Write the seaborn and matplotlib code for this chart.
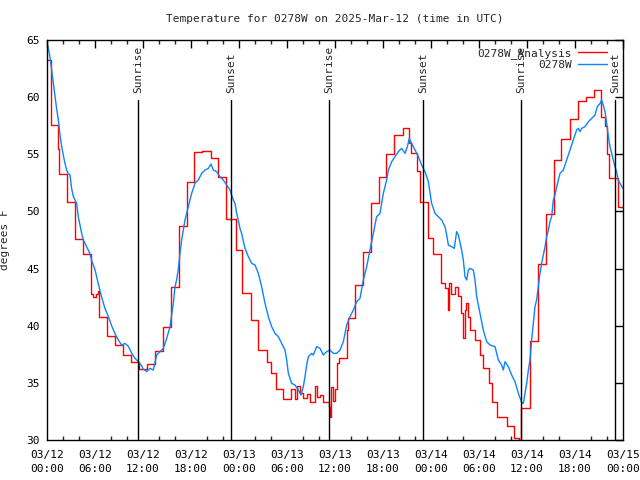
import matplotlib
matplotlib.use("Agg")
import matplotlib.pyplot as plt
import seaborn as sns
import pandas as pd

# ---------------- data (hours since 2025-03-12 00:00 UTC) ----------------
analysis_t = [0.0, 0.5, 1.4, 1.55, 2.5, 3.5, 4.5, 5.5, 5.75, 6.1, 6.35, 6.5, 7.5, 8.5, 9.5,
              10.5, 11.5, 12.5, 13.5, 14.5, 15.5, 16.5, 17.5, 18.4, 19.4, 20.5, 21.4, 22.4,
              23.6, 24.4, 25.5, 26.4, 27.5, 28.0, 28.6, 29.5, 30.5, 31.0, 31.2, 31.6, 32.0,
              32.5, 32.9, 33.5, 33.7, 34.1, 34.5, 35.2, 35.4, 35.5, 35.7, 36.0, 36.3, 36.5,
              37.45, 37.6, 38.5, 39.5, 40.5, 41.5, 42.4, 43.4, 44.5, 45.3, 45.5, 46.3, 46.6,
              47.6, 48.3, 49.25, 49.75, 50.1, 50.3, 50.5, 51.0, 51.4, 51.8, 52.0, 52.2, 52.4,
              52.6, 52.9, 53.5, 54.1, 54.5, 55.2, 55.6, 56.3, 57.5, 58.4, 59.0, 59.3, 60.4,
              61.35, 62.4, 63.35, 64.3, 65.35, 66.4, 67.4, 68.4, 69.25, 69.8, 70.0, 70.2,
              71.4, 72.0]
analysis_v = [63.25, 57.6, 55.5, 53.25, 50.8, 47.6, 46.3, 42.8, 42.5, 42.8, 43.0, 40.8, 39.1,
              38.3, 37.4, 36.85, 36.2, 36.65, 37.8, 39.9, 43.4, 48.7, 52.6, 55.2, 55.3, 54.7,
              53.0, 49.3, 46.6, 42.9, 40.5, 37.9, 36.85, 35.9, 34.5, 33.6, 34.5, 33.6, 34.7,
              34.1, 33.65, 34.0, 33.35, 34.7, 33.8, 33.9, 33.35, 32.9, 32.0, 34.6, 33.4, 34.5,
              36.7, 37.15, 39.6, 40.7, 43.6, 46.45, 50.7, 53.0, 55.0, 56.65, 57.27, 56.0, 55.1,
              53.5, 50.8, 47.65, 46.3, 43.7, 43.3, 41.4, 43.7, 42.8, 43.4, 42.6, 41.1, 38.9,
              41.4, 42.0, 40.8, 39.6, 38.75, 37.4, 36.3, 35.0, 33.35, 32.0, 31.2, 30.2, 30.0,
              32.8, 38.7, 45.4, 49.8, 54.5, 56.3, 58.1, 59.7, 60.0, 60.6, 58.3, 57.5, 55.0,
              52.9, 50.4, 50.4]

obs_t = [0.0, 0.17, 0.375, 0.58, 0.79, 1.0, 1.2, 1.42, 1.625, 1.83, 2.04, 2.25, 2.46, 2.67,
         2.875, 3.08, 3.29, 3.5, 3.71, 3.92, 4.125, 4.33, 4.54, 4.96, 5.375, 5.58, 6.0, 6.4,
         6.83, 7.25, 7.67, 8.08, 8.5, 8.92, 9.33, 9.75, 10.17, 10.58, 11.0, 11.42, 11.83,
         12.04, 12.25, 12.46, 12.875, 13.29, 13.71, 14.125, 14.54, 14.96, 15.375, 15.79,
         16.0, 16.2, 16.4, 16.625, 16.83, 17.04, 17.25, 17.46, 17.67, 17.875, 18.08, 18.29,
         18.5, 18.92, 19.33, 19.75, 20.17, 20.5, 20.79, 21.2, 21.625, 22.04, 22.46, 22.875,
         23.29, 23.5, 23.71, 24.125, 24.33, 24.75, 25.17, 25.58, 26.0, 26.42, 26.83, 27.25,
         27.67, 28.08, 28.5, 28.92, 29.33, 29.75, 29.96, 30.17, 30.58, 31.0, 31.42, 31.75,
         32.04, 32.25, 32.46, 32.67, 33.08, 33.29, 33.71, 34.125, 34.54, 34.96, 35.375,
         35.79, 36.2, 36.625, 37.04, 37.25, 37.46, 37.875, 38.29, 38.71, 39.125, 39.54,
         39.96, 40.375, 40.79, 41.2, 41.625, 42.04, 42.46, 42.67, 43.08, 43.5, 43.92, 44.33,
         44.75, 45.04, 45.29, 45.58, 46.0, 46.42, 46.83, 47.25, 47.67, 48.08, 48.5, 48.92,
         49.33, 49.75, 49.96, 50.17, 50.58, 50.92, 51.2, 51.42, 51.83, 52.04, 52.25, 52.46,
         52.67, 52.875, 53.29, 53.5, 53.71, 54.125, 54.54, 54.96, 55.375, 56.0, 56.42, 56.83,
         57.04, 57.25, 57.67, 58.08, 58.5, 58.92, 59.33, 59.54, 59.75, 59.96, 60.17, 60.375,
         60.58, 60.79, 61.0, 61.2, 61.42, 61.625, 61.83, 62.25, 62.46, 62.67, 62.875, 63.08,
         63.29, 63.5, 63.71, 63.92, 64.125, 64.33, 64.54, 64.96, 65.375, 65.79, 66.2, 66.42,
         66.625, 66.83, 67.25, 67.67, 68.08, 68.5, 68.79, 69.125, 69.33, 69.54, 69.75, 69.96,
         70.17, 70.375, 70.58, 70.79, 71.0, 71.2, 71.4, 71.625, 72.0]
obs_v = [64.7, 64.27, 63.5, 62.4, 61.2, 60.2, 59.0, 58.0, 56.7, 55.7, 54.9, 54.2, 53.6, 53.3,
         53.2, 52.0, 51.3, 51.0, 50.7, 49.5, 48.8, 48.1, 47.5, 46.9, 46.3, 45.7, 44.9, 43.7,
         42.5, 41.5, 40.8, 40.0, 39.3, 38.75, 38.3, 38.45, 38.2, 37.6, 37.15, 36.85, 36.5,
         36.18, 36.1, 35.98, 36.27, 36.12, 37.44, 37.73, 38.02, 38.9, 39.9, 41.96, 43.4, 44.0,
         44.87, 46.33, 47.5, 48.37, 49.25, 49.83, 50.41, 51.0, 51.58, 52.02, 52.46, 52.75,
         53.33, 53.62, 53.77, 54.15, 53.62, 53.48, 53.04, 52.75, 52.31, 51.87, 51.0, 50.71,
         49.83, 48.52, 48.08, 46.77, 46.04, 45.46, 45.31, 44.58, 43.42, 41.96, 40.79, 39.92,
         39.33, 39.04, 38.46, 37.87, 37.0, 35.83, 34.96, 34.81, 34.37, 33.94, 34.67, 35.54,
         36.56, 37.29, 37.58, 37.44, 38.17, 38.02, 37.44, 37.73, 37.87, 37.58, 37.58, 37.87,
         38.6, 39.33, 40.06, 40.79, 41.37, 42.1, 42.4, 44.0, 45.17, 46.62, 48.08, 49.54,
         49.83, 51.58, 52.75, 53.62, 54.35, 54.79, 55.23, 55.52, 55.08, 55.66, 56.39, 55.96,
         55.37, 54.79, 54.06, 53.48, 52.6, 50.71, 49.83, 49.54, 49.25, 48.67, 47.94, 47.06,
         46.92, 46.77, 48.23, 47.94, 46.62, 45.75, 44.29, 44.0, 44.87, 45.02, 44.87, 44.0,
         42.54, 41.08, 39.62, 38.6, 38.31, 38.17, 37.0, 36.56, 36.12, 36.85, 36.41, 35.69,
         35.1, 34.08, 33.3, 33.2, 34.1, 34.96, 36.12, 37.0, 38.75, 40.2, 41.67, 42.25, 43.42,
         44.58, 45.46, 46.9, 47.8, 48.37, 49.1, 49.54, 51.0, 51.44, 52.16, 52.75, 53.33,
         53.48, 53.62, 54.5, 55.37, 56.25, 57.12, 57.27, 56.98, 57.27, 57.41, 57.85, 58.14,
         58.43, 59.16, 59.45, 59.75, 59.3, 58.73, 57.7, 56.54, 55.66, 55.08, 54.5, 53.9,
         53.48, 52.75, 52.46, 52.0]

sun_t = [11.375, 23.0, 35.25, 47.0, 59.3, 71.0]
sun_labels = ["Sunrise", "Sunset", "Sunrise", "Sunset", "Sunrise", "Sunset"]

xtick_pos = [0, 6, 12, 18, 24, 30, 36, 42, 48, 54, 60, 66, 72]
xtick_labels = ["03/12\n00:00", "03/12\n06:00", "03/12\n12:00", "03/12\n18:00",
                "03/13\n00:00", "03/13\n06:00", "03/13\n12:00", "03/13\n18:00",
                "03/14\n00:00", "03/14\n06:00", "03/14\n12:00", "03/14\n18:00",
                "03/15\n00:00"]
ytick_pos = [30, 35, 40, 45, 50, 55, 60, 65]

title = "Temperature for 0278W on 2025-Mar-12 (time in UTC)"
ylabel = "degrees F"
label_analysis = "0278W_Analysis"
label_obs = "0278W"

# ---------------- plotting ----------------
sns.set_style("white")
plt.rcParams["font.family"] = ["DejaVu Sans Mono", "DejaVu Sans"]
plt.rcParams["font.size"] = 8

fig = plt.figure(figsize=(6.4, 4.8), dpi=100)
ax = fig.add_axes([47 / 640, 40 / 480, 576 / 640, 400 / 480])

df_a = pd.DataFrame({"t": analysis_t, "v": analysis_v})
df_o = pd.DataFrame({"t": obs_t, "v": obs_v})

sns.lineplot(data=df_a, x="t", y="v", ax=ax, color="#ff0000", linewidth=1.0,
             drawstyle="steps-post", estimator=None, sort=False, label=label_analysis)
sns.lineplot(data=df_o, x="t", y="v", ax=ax, color="#0a84ff", linewidth=1.0,
             estimator=None, sort=False, label=label_obs)

ax.set_xlim(0, 72)
ax.set_ylim(30, 65)

label_y = 30 + (440 - 93) / (400 / 35)
for t, lab in zip(sun_t, sun_labels):
    ax.axvline(t, ymin=0, ymax=(440 - 100) / 400, color="black", linewidth=1.0)
    ax.text(t, label_y, lab, rotation=90, ha="center", va="bottom", fontsize=8)

ax.set_xticks(xtick_pos)
ax.set_xticklabels(xtick_labels)
for lbl in ax.get_xticklabels():
    lbl.set_linespacing(1.55)
ax.set_xticks(list(range(0, 73, 2)), minor=True)
ax.set_yticks(ytick_pos)
ax.set_yticklabels([str(v) for v in ytick_pos])
ax.tick_params(axis="both", which="major", direction="in", length=6, width=1,
               top=True, right=True, labelsize=8, pad=5, colors="black")
ax.tick_params(axis="x", which="major", pad=7)
ax.tick_params(axis="x", which="minor", direction="in", length=3, width=1,
               top=True, bottom=True)
ax.tick_params(axis="y", which="minor", left=False, right=False)

for s in ax.spines.values():
    s.set_color("black")
    s.set_linewidth(1.0)

ax.set_xlabel("")
ax.set_ylabel(ylabel, fontsize=8)
ax.yaxis.set_label_coords(-0.064, 0.5)
ax.set_title(title, fontsize=8, pad=13)

leg = ax.legend(loc="upper right", bbox_to_anchor=(0.99, 1.005), frameon=False,
                markerfirst=False, handlelength=2.6, labelspacing=0.1,
                handletextpad=0.6, fontsize=8)
for txt in leg.get_texts():
    txt.set_ha("right")

fig.savefig("out.png", dpi=100)
